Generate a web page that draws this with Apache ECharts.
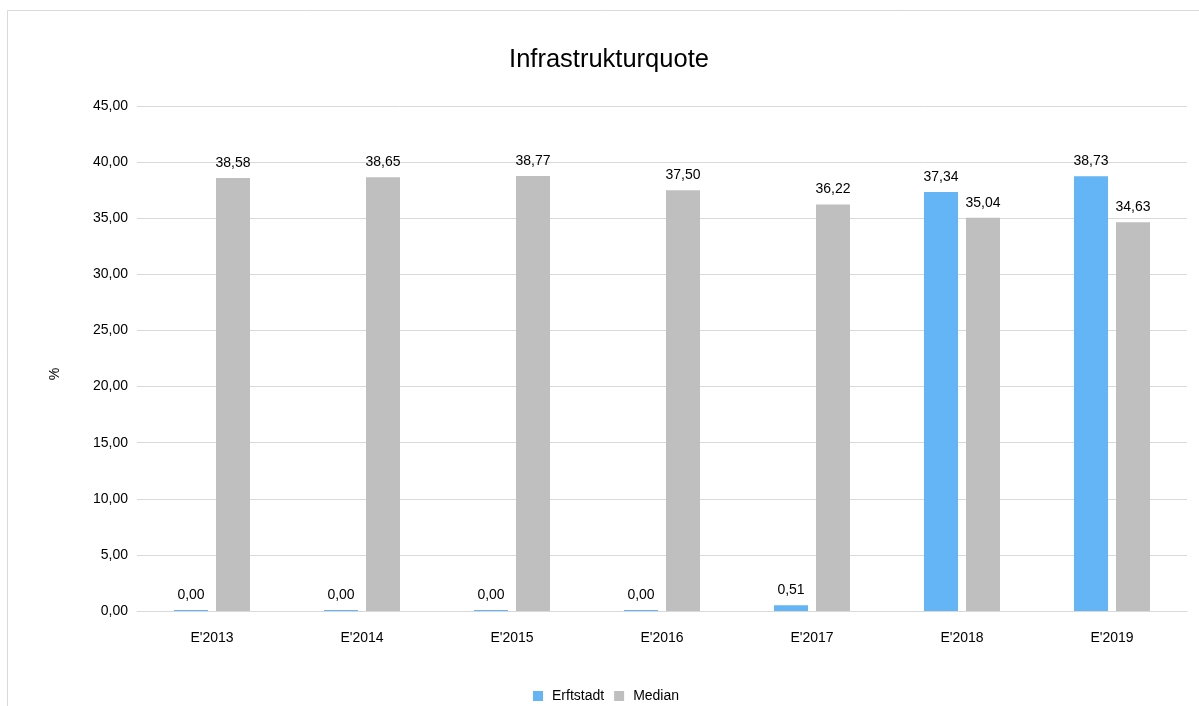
<!DOCTYPE html>
<html><head><meta charset="utf-8">
<script src="https://cdn.jsdelivr.net/npm/echarts@6/dist/echarts.min.js"></script>
<style>html,body{margin:0;padding:0;background:#fff}#c{width:1199px;height:706px}</style>
</head><body><div id="c"></div>
<script>
var categories = ["E'2013","E'2014","E'2015","E'2016","E'2017","E'2018","E'2019"];
var erftstadt = [0.00, 0.00, 0.00, 0.00, 0.51, 37.34, 38.73];
var median = [38.58, 38.65, 38.77, 37.50, 36.22, 35.04, 34.63];
var seriesNames = ["Erftstadt", "Median"];
var titleText = "Infrastrukturquote";
var yName = "%";

function fmt(v){ return Number(v).toFixed(2).replace('.', ','); }
var font = "'Liberation Sans', Arial, sans-serif";
var chart = echarts.init(document.getElementById('c'), null, {renderer:'canvas'});
chart.setOption({
  animation:false,
  backgroundColor:'#fff',
  graphic:[
    {type:'rect', shape:{x:7.5,y:10.5,width:1240,height:760}, style:{fill:'none', stroke:'#d9d9d9', lineWidth:1}, z:-1},
    {type:'text', x:55, y:374, rotation:Math.PI/2, style:{text:yName, fontFamily:font, fontSize:14, fill:'#000', textAlign:'center', textVerticalAlign:'middle'}}
  ],
  title:{text:titleText, left:604, top:42, textAlign:'center',
    textStyle:{fontFamily:font, fontSize:25.5, fontWeight:'normal', color:'#000'}},
  legend:{bottom:-2, left:528, itemWidth:10, itemHeight:10, itemGap:10, icon:'rect',
    textStyle:{fontFamily:font, fontSize:14, color:'#000', padding:[0,0,0,4]}, data:seriesNames},
  grid:{left:137, right:12, top:106, bottom:95},
  xAxis:{type:'category', data:categories,
    axisLine:{lineStyle:{color:'#d9d9d9', width:1}}, axisTick:{show:false},
    axisLabel:{fontFamily:font, fontSize:14, color:'#000', margin:20}},
  yAxis:{type:'value', min:0, max:45, interval:5,
    axisLine:{show:false}, axisTick:{show:false},
    splitLine:{lineStyle:{color:'#d9d9d9', width:1}},
    axisLabel:{fontFamily:font, fontSize:14, color:'#000', margin:9, formatter:fmt}},
  series:[
    {name:seriesNames[0], type:'bar', data:erftstadt, barWidth:34, barGap:'23.5%', barMinHeight:1,
     itemStyle:{color:'#63b5f5'},
     label:{show:true, position:'top', distance:8, fontFamily:font, fontSize:14, color:'#000', formatter:function(p){return fmt(p.value);}}},
    {name:seriesNames[1], type:'bar', data:median, barWidth:34,
     itemStyle:{color:'#bfbfbf'},
     label:{show:true, position:'top', distance:8, fontFamily:font, fontSize:14, color:'#000', formatter:function(p){return fmt(p.value);}}}
  ]
});
</script></body></html>
